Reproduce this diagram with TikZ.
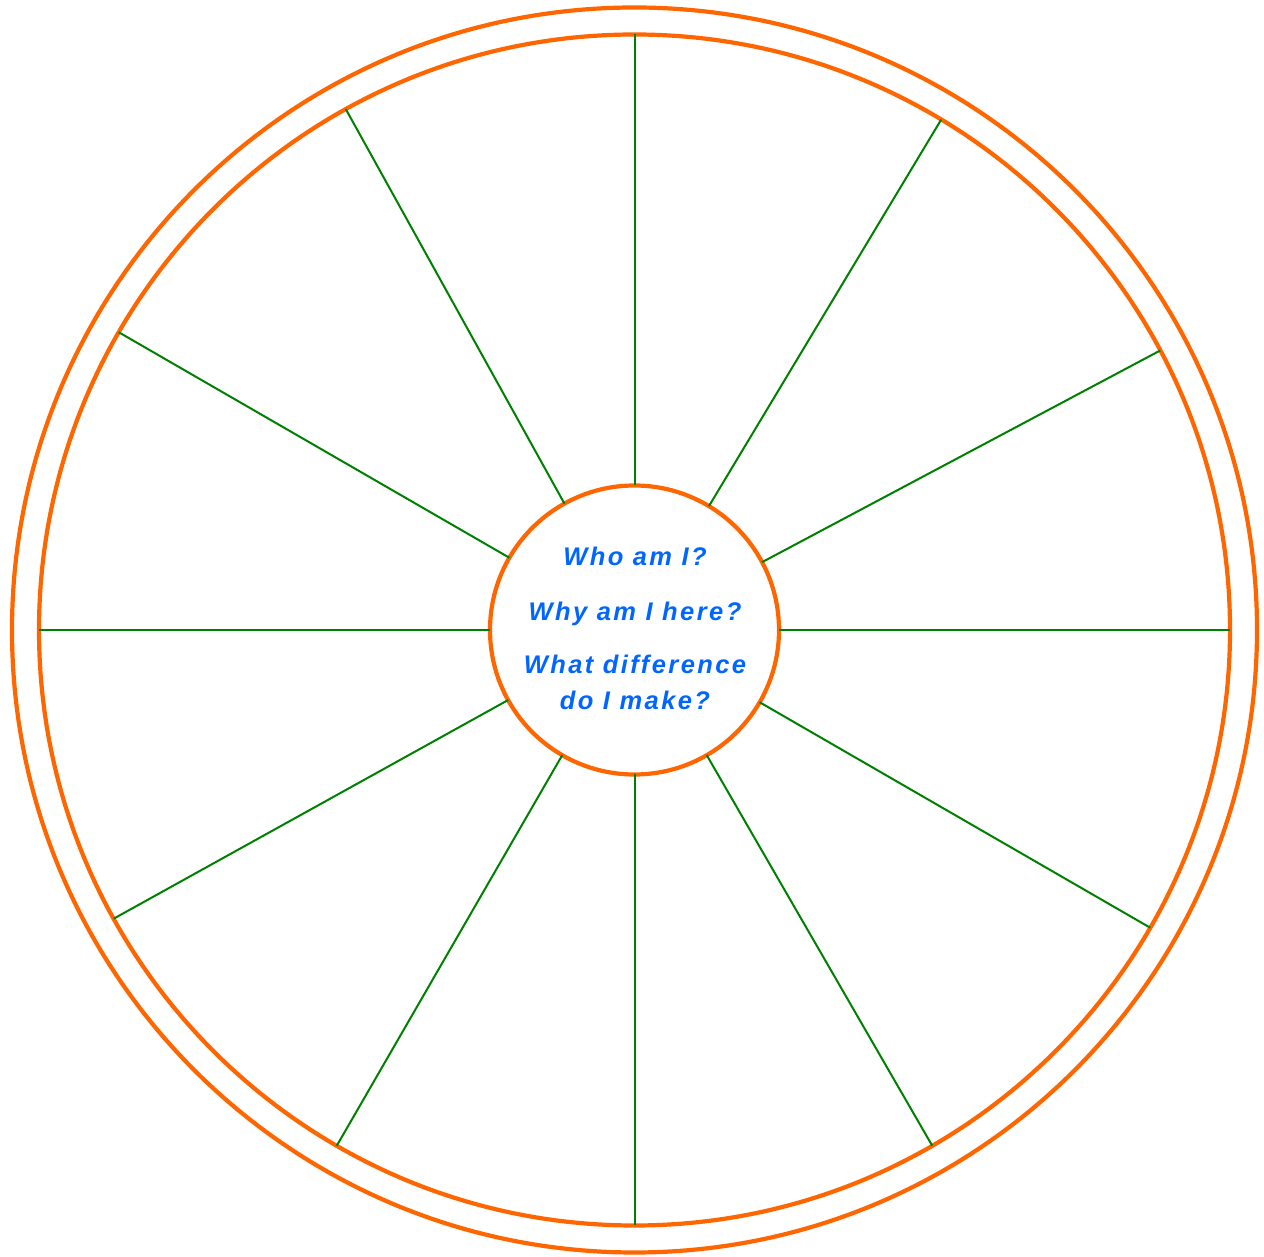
\documentclass[tikz,border=0pt]{standalone}
\usepackage{fontspec}
\newfontfamily\qfont[LetterSpace=9.5]{Liberation Sans}
\definecolor{ringorange}{RGB}{255,102,0}
\definecolor{spokegreen}{RGB}{0,128,0}
\definecolor{qblue}{RGB}{0,102,255}
\begin{document}
\begin{tikzpicture}[x=1pt,y=1pt,
  ring/.style={circle,draw=ringorange,line width=4.2pt,outer sep=0pt,inner sep=0pt},
  spoke/.style={draw=spokegreen,line width=2pt},
  question/.style={anchor=base,text=qblue,inner sep=0pt,font=\qfont\bfseries\itshape\fontsize{25.5}{30}\selectfont}]
\useasboundingbox (0,0) rectangle (1264,1256);
\coordinate (ctr) at (634.5,626);
\node[ring,minimum size=1245pt] (outer) at (ctr) {};
\node[ring,minimum size=1191pt] (inner) at (ctr) {};
\node[ring,minimum size=289pt] (hub) at (ctr) {};
\foreach \a in {0,28.55,59.57,90,119.5,150,180,209.15,240.3,270,300.3,330.6}{
  \draw[spoke] (hub.\a) -- (inner.\a);
}
\node[question] (q1) at (635,690) {Who am I?};
\node[question] (q2) at (635,635.5) {Why am I here?};
\node[question] (q3) at (635,582) {What difference};
\node[question] (q4) at (635,546) {do I make?};
\end{tikzpicture}
\end{document}
